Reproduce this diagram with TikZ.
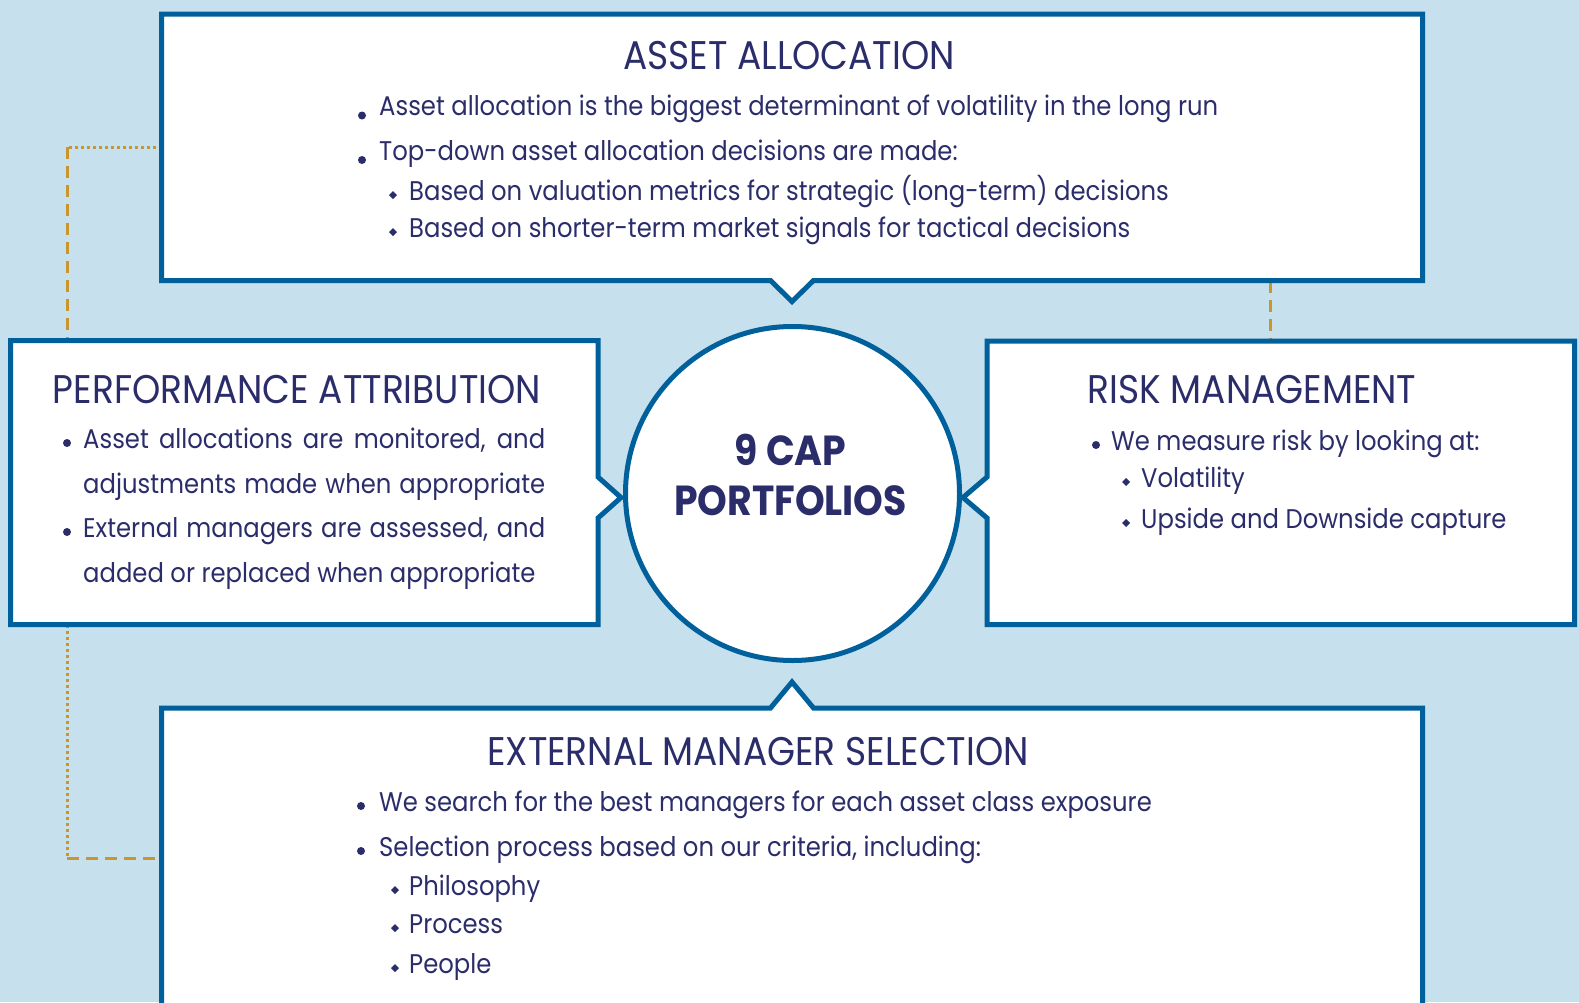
\documentclass[tikz,border=0pt]{standalone}
\usepackage{fontspec}
\setmainfont[FakeStretch=0.9]{Poppins}
\usetikzlibrary{calc}

\definecolor{bgblue}{HTML}{C7E0EE}
\definecolor{frameblue}{HTML}{00609B}
\definecolor{navy}{HTML}{2B2D6B}
\definecolor{gold}{HTML}{C9962E}

\tikzset{
  frame/.style={draw=frameblue, line width=5pt, fill=white, line join=miter},
  box/.style={rectangle, inner sep=0pt, outer sep=0pt},
  title/.style={anchor=base, text=navy, inner sep=0pt, font=\fontsize{40}{44}\selectfont},
  item/.style={anchor=base west, text=navy, inner sep=0pt, font=\fontsize{27}{30}\selectfont},
  hub/.style={anchor=base, text=navy, inner sep=0pt, font=\bfseries\fontsize{42}{46}\selectfont},
  link/.style={draw=gold, line width=3pt},
  dotline/.style={link, dash pattern=on 3pt off 3pt},
  dashline/.style={link, dash pattern=on 12pt off 7pt},
}
\newcommand{\bul}[2]{\fill[navy] (#1,#2) circle (4);}
\newcommand{\dia}[2]{\fill[navy] (#1,#2) +(-4,0) -- +(0,-4) -- +(4,0) -- +(0,4) -- cycle;}

\begin{document}
\begin{tikzpicture}[x=1pt,y=-1pt]
    \fill[bgblue] (0,0) rectangle (1579,1002);
    \useasboundingbox (0,0) rectangle (1579,1002);
    \clip (0,0) rectangle (1579,1002);

    % placeholders for the four boxes and the hub
    \node[box, minimum width=1261pt, minimum height=266.5pt] (aa) at (792,147.25) {};
    \node[box, minimum width=587.5pt, minimum height=284pt] (pa) at (304.25,482.5) {};
    \node[box, minimum width=587.5pt, minimum height=283.5pt] (rm) at (1280.75,482.75) {};
    \node[box, minimum width=1261pt, minimum height=300pt] (ems) at (792,858) {};

    % dotted / dashed links
    \coordinate (c1) at (67,147.25);
    \coordinate (c2) at (67,858);
    \coordinate (c3) at (1270,310);
    \draw[dotline] (aa.west) -- (c1);
    \draw[dashline] (c1) -- (c1 |- pa.north);
    \draw[dotline] (c2 |- pa.south) -- (c2);
    \draw[dashline] (c2) -- (ems.west);
    \draw[dashline] (c3 |- aa.south) -- (c3 |- rm.north);

    % frames with notches
    \draw[frame] (aa.north west) -- (aa.north east) -- (aa.south east)
        -- ($(aa.south)+(21.5,0)$) -- ++(-21.5,21) -- ++(-21.5,-21) -- (aa.south west) -- cycle;
    \draw[frame] (pa.north west) -- (pa.north east) -- (pa.east |- 0,477)
        -- ++(23,20.5) -- ++(-23,20.5) -- (pa.south east) -- (pa.south west) -- cycle;
    \draw[frame] (rm.north west) -- (rm.north east) -- (rm.south east) -- (rm.south west)
        -- (rm.west |- 0,518) -- ++(-24,-20.5) -- ++(24,-20.5) -- cycle;
    \draw[frame] (ems.north west) -- ($(ems.north)+(-21.5,0)$) -- ++(21.5,-26) -- ++(21.5,26)
        -- (ems.north east) -- (ems.south east) -- (ems.south west) -- cycle;
    \node[frame, circle, minimum size=334pt, inner sep=0pt] (hub) at (792.5,493.5) {};

    % hub text
    \node[hub] (hub1) at (790.5,465) {9 CAP};
    \node[hub] (hub2) at (790.5,515) {PORTFOLIOS};

    % asset allocation
    \node[title] (aat) at (789,69) {ASSET ALLOCATION};
    \node[item] (aa1) at (379,115) {Asset allocation is the biggest determinant of volatility in the long run};
    \node[item] (aa2) at (379,160) {Top-down asset allocation decisions are made:};
    \node[item] (aa3) at (409,200) {Based on valuation metrics for strategic (long-term) decisions};
    \node[item] (aa4) at (409,237) {Based on shorter-term market signals for tactical decisions};
    \bul{362}{115.5} \bul{362}{160}
    \dia{393}{195} \dia{393}{232}

    % performance attribution
    \node[title] (pat) at (297,403) {PERFORMANCE ATTRIBUTION};
    \node[item] (pa1) at (83,448) {\makebox[462pt][s]{Asset allocations are monitored, and}};
    \node[item] (pa2) at (83,493) {\makebox[462pt][s]{adjustments made when appropriate}};
    \node[item] (pa3) at (83,537) {\makebox[462pt][s]{External managers are assessed, and}};
    \node[item] (pa4) at (83,582) {added or replaced when appropriate};
    \bul{67}{443} \bul{67}{532}

    % risk management
    \node[title] (rmt) at (1252,403) {RISK MANAGEMENT};
    \node[item] (rm1) at (1111,450) {We measure risk by looking at:};
    \node[item] (rm2) at (1141,487) {Volatility};
    \node[item] (rm3) at (1141,528) {Upside and Downside capture};
    \bul{1096}{445}
    \dia{1126}{482} \dia{1126}{523}

    % external manager selection
    \node[title] (emst) at (758,765) {EXTERNAL MANAGER SELECTION};
    \node[item] (ems1) at (379,811) {We search for the best managers for each asset class exposure};
    \node[item] (ems2) at (379,856) {Selection process based on our criteria, including:};
    \node[item] (ems3) at (409,895) {Philosophy};
    \node[item] (ems4) at (409,933) {Process};
    \node[item] (ems5) at (409,973) {People};
    \bul{361}{806} \bul{361}{851}
    \dia{395}{890} \dia{395}{928} \dia{395}{968}
\end{tikzpicture}
\end{document}
